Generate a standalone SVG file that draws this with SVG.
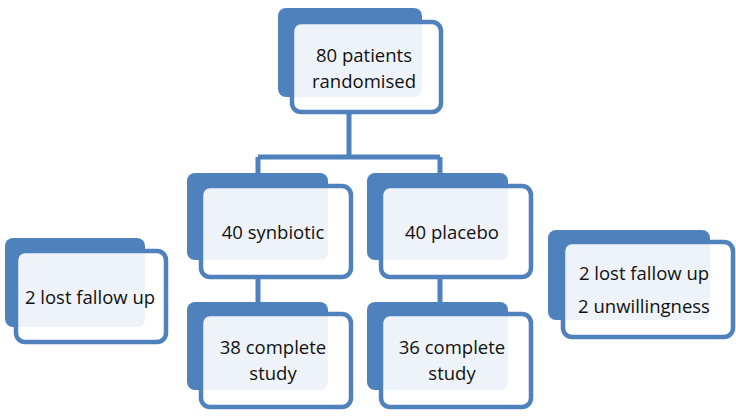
<svg xmlns="http://www.w3.org/2000/svg" width="736" height="417" viewBox="0 0 736 417">
<style>
.back{fill:#4f81bd;}
.front{fill:#ffffff;fill-opacity:0.9;stroke:#4f81bd;stroke-width:4.5;}
.conn{stroke:#4f81bd;stroke-width:5;fill:none;}
text{font-family:"Open Sans","Liberation Sans",sans-serif;font-size:18.5px;fill:#111111;text-anchor:middle;}
</style>
<rect width="736" height="417" fill="#ffffff"/>
<g id="connectors">
<path class="conn" d="M349,110 V157 M258,157 H440 M258,157 V188 M440,157 V188"/>
<path class="conn" d="M258,276 V314 M440,276 V314"/>
</g>
<g id="n_randomised">
<rect class="back" x="278" y="8" width="144" height="89" rx="8"/>
<rect class="front" x="292" y="22" width="149" height="90" rx="9"/>
<text x="364" y="62">80 patients</text>
<text x="364" y="87.5">randomised</text>
</g>
<g id="n_synbiotic">
<rect class="back" x="187" y="173" width="141" height="87" rx="8"/>
<rect class="front" x="201" y="186" width="150" height="91" rx="9"/>
<text x="273" y="239">40 synbiotic</text>
</g>
<g id="n_placebo">
<rect class="back" x="367" y="173" width="141" height="87" rx="8"/>
<rect class="front" x="381" y="186" width="150" height="91" rx="9"/>
<text x="452" y="239">40 placebo</text>
</g>
<g id="n_lost_left">
<rect class="back" x="5" y="238" width="140" height="89" rx="8"/>
<rect class="front" x="16" y="251" width="150" height="91" rx="9"/>
<text x="90" y="304">2 lost fallow up</text>
</g>
<g id="n_lost_right">
<rect class="back" x="548" y="230" width="162" height="90" rx="8"/>
<rect class="front" x="563" y="242" width="170" height="95" rx="9"/>
<text x="644" y="280">2 lost fallow up</text>
<text x="644" y="313">2 unwillingness</text>
</g>
<g id="n_complete38">
<rect class="back" x="187" y="302" width="141" height="88" rx="8"/>
<rect class="front" x="201" y="314" width="150" height="93" rx="9"/>
<text x="273" y="354">38 complete</text>
<text x="273" y="379.5">study</text>
</g>
<g id="n_complete36">
<rect class="back" x="367" y="302" width="141" height="88" rx="8"/>
<rect class="front" x="381" y="314" width="150" height="93" rx="9"/>
<text x="452" y="354">36 complete</text>
<text x="452" y="379.5">study</text>
</g>
</svg>
